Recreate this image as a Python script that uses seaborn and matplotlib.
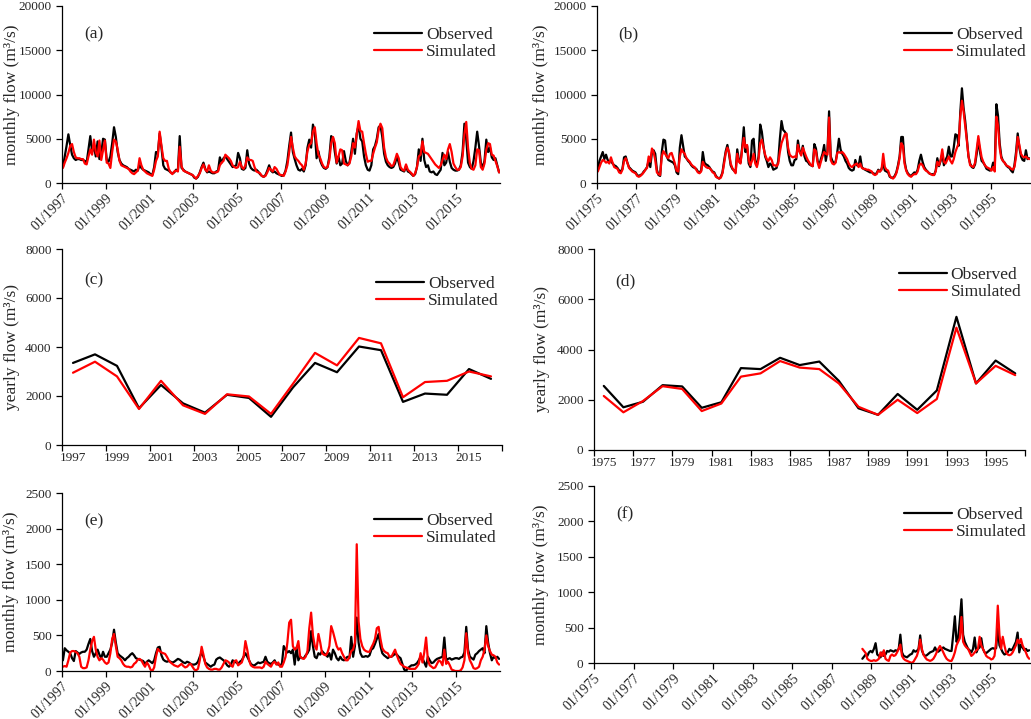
import numpy as np
import pandas as pd
import matplotlib
matplotlib.use('Agg')
import matplotlib.pyplot as plt
import seaborn as sns

sns.set_style("ticks")
plt.rcParams['font.family'] = ['Liberation Serif', 'DejaVu Serif']

# ── data (m3/s) ───────────────────────────────────────────────────
years_a = list(range(1997, 2017))
years_b = list(range(1975, 1997))

# (a) monthly flow 1997-2016
obs_a = [
    1800, 3000, 4200, 5500, 4300, 3200, 2800, 2600, 2700, 2700, 2600, 2600,
    2500, 2300, 3800, 5300, 3500, 4200, 3000, 4700, 2700, 3300, 5000, 4900,
    2600, 2400, 3000, 4500, 6300, 5200, 3500, 2600, 2200, 2000, 1900, 1800,
    1600, 1500, 1400, 1300, 1500, 1400, 2000, 1700, 1500, 1400, 1300, 1200,
    1000, 900, 1800, 3500, 3300, 5600, 4000, 2000, 1600, 1500, 1400, 1200,
    1100, 1200, 1500, 1400, 5300, 1700, 1500, 1300, 1200, 1100, 1000, 900,
    600, 500, 700, 1200, 1800, 2300, 1600, 1200, 1300, 1200, 1100, 1100,
    1300, 1400, 2900, 2300, 2800, 3000, 2700, 2400, 2100, 1800, 1900, 2000,
    3400, 2800, 1600, 1500, 1700, 3700, 2200, 1700, 1500, 1400, 1500, 1300,
    1000, 800, 700, 900, 1400, 2000, 1400, 1200, 1300, 1100, 1000, 900,
    800, 900, 1400, 2500, 4200, 5700, 3500, 2700, 2000, 1500, 1400, 1600,
    1300, 2000, 4000, 4900, 4000, 6600, 5800, 2800, 3600, 2500, 2000, 1700,
    1600, 1800, 3000, 5300, 5100, 3500, 2200, 3000, 2000, 2200, 3600, 2500,
    2000, 2300, 3500, 5000, 3300, 5600, 6500, 5000, 4700, 3000, 2000, 1500,
    1400, 2000, 3800, 4200, 5000, 6300, 6500, 5200, 3300, 2400, 2000, 1800,
    1700, 1800, 2200, 3000, 2300, 1500, 1400, 1300, 1900, 1300, 1200, 1000,
    800, 1000, 1800, 3800, 2500, 5000, 2600, 1800, 2000, 1300, 1200, 1300,
    1000, 900, 1200, 1500, 3400, 2000, 2300, 3500, 2400, 1700, 1500, 1400,
    1400, 1500, 2000, 3500, 6700, 5000, 2300, 1800, 1600, 2500, 4000, 5800,
    4200, 2300, 1700, 2500, 4900, 3500, 4000, 2900, 2600, 2800, 2000, 1200,
]
sim_a = [
    1700, 2300, 2800, 3400, 4200, 4400, 3500, 2900, 2800, 2800, 2700, 2700,
    2200, 2100, 3000, 3800, 3200, 4900, 3500, 3000, 4800, 2600, 3700, 4800,
    2300, 2200, 1700, 3500, 4900, 4700, 3800, 2500, 2000, 1900, 1800, 1700,
    1600, 1300, 1100, 1000, 1200, 1400, 2800, 2000, 1500, 1300, 1100, 1000,
    900, 800, 1500, 2500, 3000, 5800, 4200, 2800, 2500, 2500, 1600, 1200,
    1000, 1300, 1400, 1300, 4100, 1900, 1400, 1300, 1200, 1100, 1000, 900,
    700, 500, 800, 1100, 1700, 2100, 1500, 1300, 2000, 1400, 1200, 1200,
    1200, 1300, 2000, 2300, 2500, 3200, 3000, 2800, 2500, 2000, 1800, 1700,
    1800, 2400, 1800, 1600, 2000, 2900, 2600, 2600, 2500, 1800, 1300, 1200,
    1100, 800, 700, 800, 1200, 1700, 1500, 1300, 1800, 1600, 1200, 900,
    900, 800, 1300, 2000, 3500, 5200, 4000, 3000, 2700, 2500, 2200, 2000,
    1500, 2200, 3600, 4300, 4500, 5800, 6300, 4500, 3200, 2800, 2200, 1800,
    1700, 1800, 2600, 4500, 5200, 4500, 2300, 3000, 3800, 3700, 2200, 2100,
    2000, 2200, 3000, 4500, 4000, 5500, 7000, 5900, 5800, 4500, 3300, 2400,
    2500, 2500, 3300, 4000, 4600, 6000, 6700, 6200, 4000, 2900, 2400, 2200,
    1900, 2000, 2600, 3300, 2800, 1800, 1500, 1400, 2100, 1500, 1300, 1100,
    800, 1100, 1800, 3000, 3200, 4700, 3500, 3400, 3300, 3000, 2700, 2400,
    2100, 1900, 1700, 2000, 2600, 3200, 2700, 3800, 4400, 3500, 2200, 1800,
    1500, 1500, 1800, 3000, 5500, 6900, 4000, 2200, 1600, 1500, 2000, 3800,
    3700, 1800, 1500, 2200, 3800, 4500, 4400, 3200, 3100, 2500, 1900, 1200,
]

# (b) monthly flow 1975-1996
obs_b = [
    1500, 2500, 3000, 3500, 2700, 3200, 2600, 2400, 2500, 2200, 2000, 1900,
    1700, 1400, 1300, 1600, 2900, 3000, 2300, 1800, 1600, 1400, 1300, 1200,
    900, 800, 900, 1000, 1300, 1500, 1800, 2500, 1800, 3500, 3700, 3300,
    1500, 900, 800, 3500, 4900, 4800, 3000, 2600, 2500, 2400, 2300, 2000,
    1200, 1000, 4000, 5400, 4200, 3000, 2800, 2500, 2300, 2000, 1800, 1700,
    1600, 1300, 1200, 1400, 3500, 2300, 2100, 2000, 1800, 1500, 1300, 1200,
    800, 600, 500, 700, 1200, 2500, 3600, 4300, 3300, 2000, 1600, 1400,
    1200, 3800, 2600, 2300, 4000, 6300, 3500, 4200, 2200, 1800, 4800, 5000,
    2500, 2000, 3000, 6600, 5800, 4200, 3000, 2500, 1800, 2200, 2000, 1500,
    1600, 1700, 2500, 5000, 7000, 6000, 5800, 5500, 3500, 2500, 2000, 2000,
    2600, 2700, 4800, 3600, 3300, 4200, 3000, 2500, 2400, 2100, 2000, 1900,
    4400, 3900, 2500, 2000, 2700, 3300, 4300, 2500, 3600, 8100, 3000, 2500,
    2200, 2400, 3500, 5000, 3800, 3300, 3000, 2500, 2200, 1700, 1500, 1400,
    1500, 2600, 2000, 1900, 3000, 1800, 1600, 1500, 1400, 1300, 1200, 1200,
    1100, 1000, 1100, 1500, 1300, 1600, 2200, 1400, 1300, 1200, 700, 600,
    600, 800, 1200, 2000, 3000, 5200, 5200, 2500, 1500, 1100, 900, 800,
    1000, 1200, 1100, 1500, 2500, 3200, 2400, 1800, 1500, 1300, 1100, 1000,
    1000, 900, 1400, 2800, 1900, 2500, 3300, 2000, 2600, 3000, 4100, 3000,
    3000, 4000, 5500, 5400, 4200, 8000, 10700, 8500, 7000, 5000, 3000, 2200,
    1800, 1700, 2100, 3300, 4900, 3500, 2500, 2300, 2000, 1600, 1500, 1400,
    1500, 2300, 1700, 8900, 7600, 4500, 3000, 2500, 2300, 2000, 1800, 1700,
    1400, 1200, 2000, 3500, 5600, 4000, 3000, 2600, 2500, 3700, 2700, 2800,
]
sim_b = [
    1300, 1800, 2300, 2600, 2500, 2300, 2400, 2200, 2900, 2300, 1800, 1700,
    1600, 1200, 1100, 1500, 2500, 2800, 2300, 1700, 1500, 1300, 1200, 1100,
    800, 700, 800, 1000, 1200, 1500, 1700, 3000, 2400, 3900, 3500, 2600,
    1200, 1000, 900, 3000, 3600, 3300, 3000, 2800, 3300, 3400, 2800, 2200,
    1400, 1300, 3000, 3800, 3500, 3300, 2800, 2600, 2400, 2100, 1900, 1800,
    1500, 1200, 1100, 1300, 2400, 2000, 1800, 1700, 1700, 1500, 1200, 1100,
    700, 600, 500, 600, 1100, 2200, 3400, 4000, 3500, 2200, 1700, 1400,
    1100, 3300, 2400, 2200, 3800, 5100, 4000, 4300, 2600, 2000, 2500, 3300,
    2200, 1800, 2700, 4500, 4900, 4000, 3200, 2700, 2500, 2900, 2600, 2000,
    2000, 1900, 2200, 3500, 4500, 5000, 5500, 5600, 4000, 3200, 3000, 2900,
    3000, 2900, 4300, 3500, 3100, 4000, 3500, 3000, 2600, 2300, 2000, 1900,
    3800, 3600, 2300, 1700, 2400, 3000, 3500, 3300, 3200, 7400, 2600, 2200,
    2100, 2300, 3400, 3500, 3400, 3500, 3300, 3000, 2700, 2200, 1900, 1800,
    2000, 2100, 2200, 1800, 2200, 1700, 1600, 1600, 1500, 1500, 1400, 1300,
    1000, 900, 1000, 1400, 1300, 1500, 3300, 1800, 1500, 1400, 800, 600,
    500, 700, 1100, 1800, 2800, 4500, 4200, 2200, 1400, 1000, 800, 700,
    900, 1000, 1000, 1300, 2000, 2200, 2000, 1600, 1400, 1300, 1100, 1000,
    900, 900, 1300, 2400, 2000, 2600, 3800, 2400, 2200, 2600, 3000, 2500,
    2200, 2700, 3500, 4000, 4500, 7500, 9300, 8100, 6500, 4800, 3000, 2000,
    1900, 1800, 2300, 3800, 5300, 4000, 2900, 2400, 2000, 1800, 1700, 1600,
    1400, 1800, 1300, 7500, 6500, 4000, 2800, 2500, 2300, 2000, 1900, 1800,
    1600, 1500, 1800, 3000, 5200, 4300, 3300, 3000, 2900, 3000, 2800, 2700,
]

# (c) yearly flow 1997-2016
obs_c = [3350, 3700, 3230, 1500, 2450, 1700, 1320, 2050, 1920, 1150,
         2350, 3350, 2970, 4020, 3870, 1760, 2100, 2050, 3100, 2700]
sim_c = [2950, 3400, 2800, 1470, 2620, 1620, 1270, 2070, 1980, 1270,
         2500, 3760, 3250, 4370, 4150, 1950, 2570, 2620, 3000, 2800]

# (d) yearly flow 1975-1996
obs_d = [2550, 1700, 1920, 2580, 2530, 1680, 1900, 3260, 3220, 3670, 3380,
         3520, 2750, 1660, 1400, 2230, 1600, 2370, 5300, 2650, 3560, 3050]
sim_d = [2150, 1500, 1950, 2540, 2430, 1550, 1850, 2920, 3050, 3540, 3280,
         3220, 2650, 1720, 1400, 2000, 1470, 2030, 4870, 2650, 3350, 2980]

# (e) monthly flow 1997-2016
obs_e = [
    150, 320, 290, 270, 250, 180, 140, 280, 260, 240, 260, 270,
    270, 300, 380, 450, 280, 200, 250, 300, 230, 180, 270, 200,
    200, 250, 300, 400, 580, 400, 250, 220, 200, 180, 150, 180,
    200, 230, 250, 220, 180, 170, 160, 150, 140, 100, 130, 150,
    130, 110, 150, 250, 330, 340, 220, 160, 140, 130, 140, 130,
    120, 130, 150, 170, 160, 140, 120, 110, 130, 120, 100, 90,
    90, 100, 130, 200, 260, 200, 120, 100, 80, 60, 80, 90,
    160, 180, 190, 170, 150, 120, 80, 60, 90, 150, 130, 120,
    100, 130, 150, 200, 250, 200, 150, 100, 80, 80, 100, 120,
    110, 120, 130, 200, 130, 110, 100, 120, 150, 100, 90, 80,
    100, 350, 300, 260, 280, 250, 300, 90, 330, 150, 200, 180,
    180, 220, 250, 300, 560, 350, 200, 180, 250, 230, 280, 250,
    230, 200, 250, 160, 300, 250, 180, 150, 200, 160, 150, 180,
    200, 180, 480, 200, 350, 750, 400, 250, 200, 200, 210, 200,
    220, 300, 320, 380, 450, 520, 350, 250, 220, 200, 180, 200,
    200, 220, 240, 230, 200, 180, 100, 20, 0, 40, 60, 80,
    80, 90, 110, 150, 200, 180, 120, 60, 200, 150, 110, 120,
    150, 170, 180, 190, 200, 470, 150, 170, 180, 160, 170, 180,
    180, 170, 190, 200, 260, 620, 300, 200, 180, 160, 230, 250,
    280, 300, 320, 250, 630, 400, 250, 150, 200, 180, 200, 170,
]
sim_e = [
    60, 70, 60, 150, 260, 280, 280, 270, 250, 200, 60, 40,
    40, 50, 150, 300, 420, 480, 300, 200, 150, 180, 160, 120,
    100, 120, 250, 450, 520, 350, 200, 180, 150, 100, 70, 60,
    60, 50, 60, 100, 120, 160, 170, 150, 100, 60, 120, 80,
    20, 0, 50, 200, 310, 280, 260, 250, 240, 200, 150, 120,
    100, 80, 70, 60, 80, 100, 70, 50, 60, 90, 100, 60,
    20, 10, 30, 150, 340, 230, 100, 50, 30, 20, 20, 30,
    30, 20, 20, 50, 100, 150, 140, 120, 80, 60, 140, 150,
    80, 100, 120, 200, 420, 300, 150, 80, 60, 50, 50, 50,
    50, 40, 60, 130, 100, 80, 60, 110, 130, 90, 120, 60,
    60, 120, 200, 400, 680, 720, 350, 300, 320, 420, 200, 180,
    170, 200, 280, 600, 820, 500, 350, 300, 520, 400, 250, 230,
    220, 260, 350, 630, 550, 450, 350, 300, 320, 250, 200, 150,
    150, 200, 280, 300, 400, 1780, 700, 450, 350, 300, 280, 270,
    270, 330, 380, 450, 600, 620, 450, 320, 280, 260, 250, 200,
    200, 250, 300, 220, 150, 100, 80, 60, 50, 40, 30, 30,
    30, 30, 60, 100, 250, 120, 260, 470, 150, 80, 60, 40,
    50, 100, 150, 130, 80, 300, 100, 130, 80, 20, 10, 0,
    0, 0, 10, 50, 150, 530, 250, 150, 100, 40, 30, 40,
    60, 150, 200, 300, 500, 350, 280, 230, 220, 200, 120, 90,
]

# (f) monthly flow, record starts 07/1988 (axis 1975-1996)
f_start = 162
obs_f = [
    60, 90, 120, 100, 150, 170,
    150, 200, 280, 120, 100, 80, 150, 100, 120, 170, 160, 180,
    170, 160, 180, 170, 200, 400, 150, 100, 90, 80, 100, 120,
    130, 180, 160, 170, 200, 390, 180, 120, 100, 110, 130, 150,
    160, 170, 220, 170, 160, 180, 200, 220, 200, 190, 180, 170,
    170, 400, 660, 300, 350, 600, 900, 400, 300, 250, 200, 180,
    150, 200, 360, 150, 200, 220, 350, 200, 150, 140, 160, 180,
    200, 210, 200, 210, 500, 250, 200, 150, 120, 130, 150, 200,
    180, 200, 250, 300, 430, 150, 260, 220, 180, 200, 170, 180,
]
sim_f = [
    200, 170, 140, 60, 40, 30,
    30, 40, 30, 40, 60, 150, 100, 180, 60, 40, 30, 100,
    120, 100, 110, 150, 200, 260, 100, 60, 40, 30, 20, 10,
    0, 20, 60, 100, 180, 330, 200, 120, 80, 50, 40, 30,
    40, 60, 100, 150, 200, 240, 200, 150, 100, 60, 40, 30,
    30, 80, 150, 250, 300, 350, 650, 300, 250, 220, 200, 150,
    100, 120, 150, 180, 200, 370, 250, 200, 150, 100, 80, 70,
    50, 60, 100, 300, 810, 400, 200, 370, 250, 150, 120, 110,
    120, 150, 200, 250, 330, 280, 340, 250, 200, 150, 90, 60,
]

palette = {'Observed': 'black', 'Simulated': 'red'}
W, H = 1031, 719


def long_frame(obs, sim, start=0):
    idx = np.arange(start, start + len(obs))
    df = pd.DataFrame({'x': idx, 'Observed': obs, 'Simulated': sim})
    return df.melt(id_vars='x', var_name='series', value_name='flow')


def style_axis(ax, ymax, ystep, ylabel, tag, leg_y, label_x, left, width):
    for s in ['top', 'right']:
        ax.spines[s].set_visible(False)
    for s in ['left', 'bottom']:
        ax.spines[s].set_color('black')
        ax.spines[s].set_linewidth(0.9)
    ax.set_ylim(0, ymax)
    ax.set_yticks(np.arange(0, ymax + 1, ystep))
    ax.tick_params(axis='y', direction='out', length=4, width=0.9,
                   color='black', labelsize=9.5)
    ax.set_ylabel(ylabel, fontsize=12.5)
    # right edge of the rotated label, in pixels from the figure's left
    ax.yaxis.set_label_coords((label_x - left) / width, 0.5)
    ax.set_xlabel('')
    ax.text(0.05, 0.84, tag, transform=ax.transAxes, fontsize=12.5,
            va='center')
    h, l = ax.get_legend_handles_labels()
    ax.legend(h, l, loc='upper right', bbox_to_anchor=(1.02, leg_y),
              frameon=False, fontsize=12.5, handlelength=2.8,
              labelspacing=0.05, handletextpad=0.2, borderpad=0.2)


def monthly_axis(ax, years):
    n = len(years) * 12
    ax.set_xlim(-0.5, n - 0.5)
    ax.set_xticks([m - 0.5 for m in range(0, n, 24)])
    ax.set_xticklabels([f'01/{y}' for y in years[::2]], rotation=45,
                       ha='right', rotation_mode='anchor', fontsize=10)
    ax.tick_params(axis='x', direction='out', length=4, width=0.9,
                   color='black', pad=2)


def yearly_axis(ax, years):
    n = len(years)
    ax.set_xlim(-0.5, n - 0.5)
    ax.set_xticks(range(0, n, 2))
    ax.set_xticklabels([str(y) for y in years[::2]], fontsize=9.5)
    ax.set_xticks(np.arange(-0.5, n, 2), minor=True)
    ax.tick_params(axis='x', which='major', length=0, pad=5)
    ax.tick_params(axis='x', which='minor', direction='out', length=4,
                   width=0.9, color='black')


fig = plt.figure(figsize=(W / 100, H / 100), dpi=100)

mlabel = 'monthly flow (m³/s)'
ylabel = 'yearly flow (m³/s)'

# (box left, right, top, bottom in px), frame, years, kind, ymax, step,
# label, tag, legend top, ylabel right edge
panels = [
    ((62, 500, 6, 183), long_frame(obs_a, sim_a), years_a, 'm', 20000, 5000,
     mlabel, '(a)', 0.953, 20),
    ((597, 1030, 6, 183), long_frame(obs_b, sim_b), years_b, 'm', 20000, 5000,
     mlabel, '(b)', 0.953, 549),
    ((62, 502, 249, 445), long_frame(obs_c, sim_c), years_a, 'y', 8000, 2000,
     ylabel, '(c)', 0.925, 20),
    ((594, 1025, 249, 450), long_frame(obs_d, sim_d), years_b, 'y', 8000, 2000,
     ylabel, '(d)', 0.97, 550),
    ((62, 500, 493, 671), long_frame(obs_e, sim_e), years_a, 'm', 2500, 500,
     mlabel, '(e)', 0.958, 19),
    ((594, 1030, 486, 663), long_frame(obs_f, sim_f, f_start), years_b, 'm',
     2500, 500, mlabel, '(f)', 0.953, 549),
]

for box, df, years, kind, ymax, ystep, lab, tag, leg_y, lab_x in panels:
    left, right, top, bottom = box
    ax = fig.add_axes([left / W, 1 - bottom / H, (right - left) / W,
                       (bottom - top) / H])
    sns.lineplot(data=df, x='x', y='flow', hue='series', palette=palette,
                 hue_order=['Observed', 'Simulated'], linewidth=1.6,
                 errorbar=None, ax=ax)
    style_axis(ax, ymax, ystep, lab, tag, leg_y, lab_x, left, right - left)
    if kind == 'm':
        monthly_axis(ax, years)
    else:
        yearly_axis(ax, years)

fig.savefig('out.png', dpi=100)
